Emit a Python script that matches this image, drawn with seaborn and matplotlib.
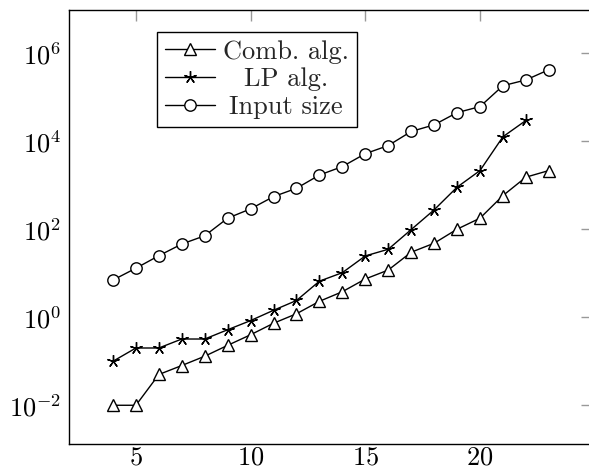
import matplotlib
matplotlib.use("Agg")
import matplotlib.pyplot as plt
import seaborn as sns
import numpy as np
import pandas as pd
from matplotlib.ticker import FixedLocator, NullLocator, LogFormatterSciNotation

# ---- data ----
n_values = list(range(4, 24))
comb_alg = [0.01, 0.01, 0.05, 0.08, 0.13, 0.23, 0.4, 0.73, 1.2, 2.3, 3.8, 7.4,
            11.8, 30, 48, 100, 178, 580, 1520, 2150]
lp_n = list(range(4, 23))
lp_alg = [0.1, 0.2, 0.2, 0.32, 0.32, 0.52, 0.84, 1.44, 2.4, 6.6, 10.3, 24.7,
          35, 98, 275, 900, 2150, 12600, 29500]
input_size = [7, 13, 25, 46, 71, 178, 290, 550, 850, 1700, 2650, 5200, 7950,
              16600, 23500, 44500, 61000, 182000, 246000, 420000]
labels = ["Comb. alg.", "LP alg.", "Input size"]
x_ticks = [5, 10, 15, 20]
y_ticks = [1e-2, 1e0, 1e2, 1e4, 1e6]

sns.set_theme(style="white")
plt.rcParams["font.family"] = "serif"
plt.rcParams["font.serif"] = ["cmr10"]
plt.rcParams["mathtext.fontset"] = "cm"
plt.rcParams["axes.formatter.use_mathtext"] = True

W, H = 589, 470
fig = plt.figure(figsize=(W / 100, H / 100), dpi=100)
ax = fig.add_axes([69.4 / W, 26 / H, 523 / W, 434 / H])

fs = 19
common = dict(color="black", linewidth=1.0, markeredgecolor="black",
              markerfacecolor="white", markeredgewidth=1.0)
sns.lineplot(x=n_values, y=comb_alg, ax=ax, marker="^", markersize=8,
             label=labels[0], **common)
sns.lineplot(x=lp_n, y=lp_alg, ax=ax, marker=(5, 2, 0), markersize=9,
             label=labels[1], **common)
sns.lineplot(x=n_values, y=input_size, ax=ax, marker="o", markersize=8.2,
             label=labels[2], **common)

ax.set_yscale("log")
ax.set_xlim(2.1, 24.9)
ax.set_ylim(10 ** -2.88, 10 ** 6.98)
ax.xaxis.set_major_locator(FixedLocator(x_ticks))
ax.yaxis.set_major_locator(FixedLocator(y_ticks))
ax.yaxis.set_major_formatter(LogFormatterSciNotation())
ax.yaxis.set_minor_locator(NullLocator())
ax.xaxis.set_minor_locator(NullLocator())
ax.tick_params(axis="both", which="major", direction="in", length=8,
               width=1.0, color="#999999", labelsize=fs,
               top=True, right=True, labelcolor="black")
ax.tick_params(axis="y", pad=6)
ax.tick_params(axis="x", pad=1.5)
for sp in ax.spines.values():
    sp.set_color("black")
    sp.set_linewidth(1.0)
ax.set_xlabel("")
ax.set_ylabel("")

leg = ax.legend(loc="upper left", bbox_to_anchor=((157 - 69.4) / 523, (444 - 32) / 434),
                borderaxespad=0, fontsize=fs, frameon=True, fancybox=False,
                framealpha=1, edgecolor="black", handlelength=1.9,
                handletextpad=0.3, labelspacing=0.15, borderpad=0.3)
leg.get_frame().set_linewidth(1.0)

# center the legend texts within their column (like pgfplots)
renderer = fig.canvas.get_renderer()
texts = leg.get_texts()
widths = [t.get_window_extent(renderer).width for t in texts]
maxw = max(widths)
for t, w in zip(texts, widths):
    t.set_x((maxw - w) / 2)

fig.savefig("out.png", dpi=100)
